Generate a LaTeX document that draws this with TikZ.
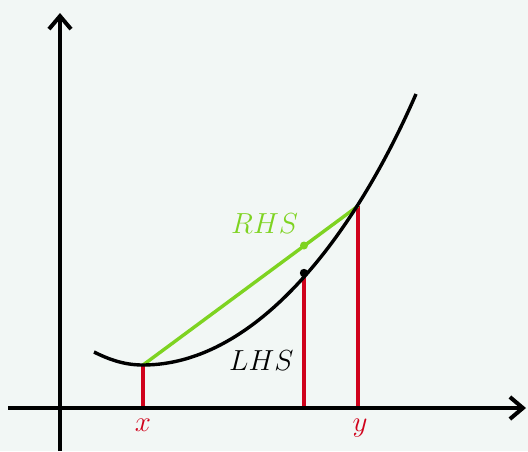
\documentclass[tikz,border=0pt]{standalone}
\usetikzlibrary{arrows.meta}
\definecolor{bg}{RGB}{242,247,245}
\definecolor{myred}{RGB}{208,2,27}
\definecolor{mygreen}{RGB}{126,211,33}
\newcommand{\biglbl}[1]{\scalebox{1.166}{\Huge$#1$}}
\begin{document}
\begin{tikzpicture}[x=1pt,y=-1pt,
  axis/.style={line width=4pt,-{Straight Barb[length=13pt,width=22pt,line width=4pt]}},
  curve/.style={line width=3.4pt},
  chord/.style={line width=3.4pt,mygreen},
  vline/.style={line width=3.4pt,myred},
  lbl/.style={inner sep=0pt}]
\fill[bg] (0,0) rectangle (528,451);
\useasboundingbox (0,0) rectangle (528,451);
% points
\coordinate (O) at (60,408);
\coordinate (xl) at (8,408);
\coordinate (xr) at (526,408);
\coordinate (yb) at (60,451);
\coordinate (yt) at (60,13);
\coordinate (c0) at (94,352);
\coordinate (px) at (143,365);
\coordinate (pm) at (304,273);
\coordinate (py) at (358,206);
\coordinate (c1) at (416,94);
\coordinate (pg) at (304,245.5);
\coordinate (bx) at (143,408);
\coordinate (bm) at (304,408);
\coordinate (by) at (358,408);
% red verticals
\draw[vline] (bx) -- (px);
\draw[vline] (bm) -- (pm);
\draw[vline] (by) -- (py);
% axes
\draw[axis] (xl) -- (xr);
\draw[axis] (yb) -- (yt);
% chord
\draw[chord] (px) -- (py);
% curve
\draw[curve] (c0) .. controls (110,360) and (125,365) .. (px)
  .. controls (258,365) and (356,232) .. (c1);
% dots
\fill[mygreen] (pg) circle (4pt);
\fill[black] (pm) circle (4.2pt);
% labels
\node[lbl,anchor=base,text=myred] (lx) at (143,431) {\biglbl{x}};
\node[lbl,anchor=base,text=myred] (ly) at (360,431) {\biglbl{y}};
\node[lbl,anchor=base west,text=mygreen] (rhs) at (231,233) {\biglbl{RHS}};
\node[lbl,anchor=base west] (lhs) at (229,370) {\biglbl{LHS}};
\end{tikzpicture}
\end{document}
